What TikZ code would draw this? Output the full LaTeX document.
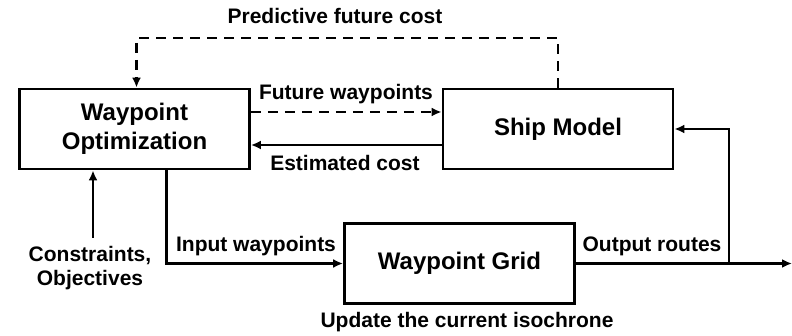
\documentclass[tikz,border=0pt]{standalone}
\usepackage{fontspec}
\setmainfont{Liberation Sans}
\usetikzlibrary{arrows.meta,positioning}
\tikzset{
  block/.style = {draw, line width=2.8pt, minimum width=230pt, minimum height=80pt,
                  inner sep=0pt, align=center,
                  font=\fontsize{24}{29}\selectfont\bfseries},
  lbl/.style   = {inner sep=0pt, anchor=base, align=center,
                  font=\fontsize{21}{24}\selectfont\bfseries},
  link/.style  = {line width=2.5pt, ->},
  dlink/.style = {link, dash pattern=on 10pt off 7pt}
}

\begin{document}
\begin{tikzpicture}[x=1pt, y=-1pt, >={Latex[length=10pt,width=9pt]}]
\useasboundingbox (0,0) rectangle (792,336);

% the three blocks
\node[block] (opt)  at (134.5,129) {Waypoint\\Optimization};
\node[block] (ship) at (558,129)   {Ship Model};
\node[block] (grid) at (459.5,263.5) {Waypoint Grid};

% feedback between optimization and ship model
\coordinate (pf) at (558,38);
\draw[dlink] (ship.north) -- (pf) -| ([xshift=2pt]opt.north);
\draw[dlink] ([yshift=17pt]opt.east) -- ([yshift=17pt]ship.west);
\draw[link] ([yshift=-16pt]ship.west) -- ([yshift=-16pt]opt.east);

% inputs and outputs
\node[lbl] (cons) at (90,286) {Constraints,\\Objectives};
\coordinate (consin) at (93,238);
\draw[link] (consin) -- (opt.south -| consin);
\draw[link] ([xshift=32pt]opt.south) |- (grid.west);
\coordinate (out) at (792,263.5);
\coordinate (branch) at (729,263.5);
\draw[link] (grid.east) -- (out);
\draw[link] (branch) |- (ship.east);

% labels
\node[lbl] (lpf)  at (335,24)  {Predictive future cost};
\node[lbl] (lfw)  at (346,100) {Future waypoints};
\node[lbl] (lec)  at (345,171) {Estimated cost};
\node[lbl] (liw)  at (256,252) {Input waypoints};
\node[lbl] (lout) at (652,252) {Output routes};
\node[lbl] (lupd) at (467,327) {Update the current isochrone};

\end{tikzpicture}
\end{document}
